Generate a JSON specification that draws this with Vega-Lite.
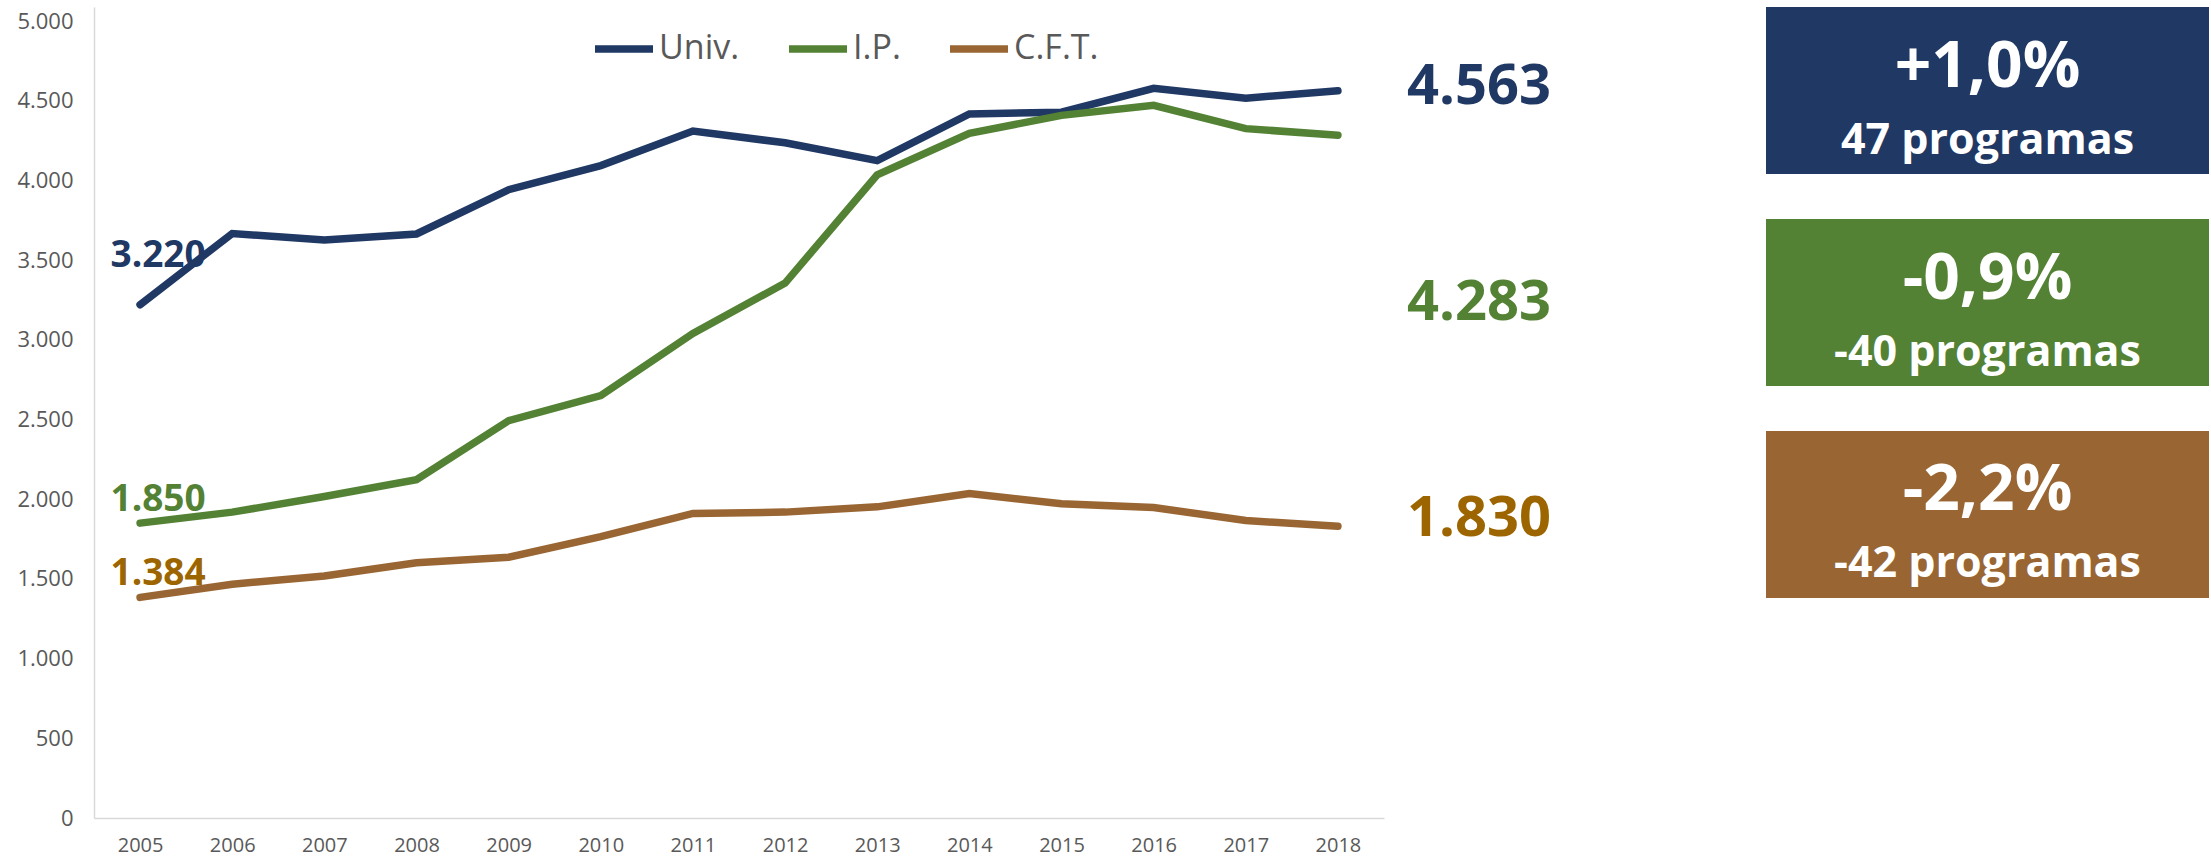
{
  "$schema": "https://vega.github.io/schema/vega-lite/v6.json",
  "background": "white",
  "padding": {"left": 16, "top": 7, "right": 3, "bottom": 3},
  "bounds": "flush",
  "spacing": 0,
  "config": {
    "locale": {"number": {"decimal": ",", "thousands": ".", "grouping": [3], "currency": ["$", ""], "minus": "-"}},
    "view": {"stroke": null},
    "font": "Open Sans"
  },
  "resolve": {"scale": {"color": "independent", "fill": "independent"}, "legend": {"color": "independent", "fill": "independent"}},
  "datasets": {
    "serie": [
      {"anio": "2005", "tipo": "Univ.", "valor": 3220},
      {"anio": "2006", "tipo": "Univ.", "valor": 3667},
      {"anio": "2007", "tipo": "Univ.", "valor": 3627},
      {"anio": "2008", "tipo": "Univ.", "valor": 3664},
      {"anio": "2009", "tipo": "Univ.", "valor": 3942},
      {"anio": "2010", "tipo": "Univ.", "valor": 4093},
      {"anio": "2011", "tipo": "Univ.", "valor": 4310},
      {"anio": "2012", "tipo": "Univ.", "valor": 4236},
      {"anio": "2013", "tipo": "Univ.", "valor": 4124},
      {"anio": "2014", "tipo": "Univ.", "valor": 4417},
      {"anio": "2015", "tipo": "Univ.", "valor": 4428},
      {"anio": "2016", "tipo": "Univ.", "valor": 4578},
      {"anio": "2017", "tipo": "Univ.", "valor": 4516},
      {"anio": "2018", "tipo": "Univ.", "valor": 4563},
      {"anio": "2005", "tipo": "I.P.", "valor": 1850},
      {"anio": "2006", "tipo": "I.P.", "valor": 1919},
      {"anio": "2007", "tipo": "I.P.", "valor": 2017},
      {"anio": "2008", "tipo": "I.P.", "valor": 2122},
      {"anio": "2009", "tipo": "I.P.", "valor": 2493},
      {"anio": "2010", "tipo": "I.P.", "valor": 2650},
      {"anio": "2011", "tipo": "I.P.", "valor": 3040},
      {"anio": "2012", "tipo": "I.P.", "valor": 3356},
      {"anio": "2013", "tipo": "I.P.", "valor": 4035},
      {"anio": "2014", "tipo": "I.P.", "valor": 4295},
      {"anio": "2015", "tipo": "I.P.", "valor": 4408},
      {"anio": "2016", "tipo": "I.P.", "valor": 4471},
      {"anio": "2017", "tipo": "I.P.", "valor": 4325},
      {"anio": "2018", "tipo": "I.P.", "valor": 4283},
      {"anio": "2005", "tipo": "C.F.T.", "valor": 1384},
      {"anio": "2006", "tipo": "C.F.T.", "valor": 1467},
      {"anio": "2007", "tipo": "C.F.T.", "valor": 1518},
      {"anio": "2008", "tipo": "C.F.T.", "valor": 1601},
      {"anio": "2009", "tipo": "C.F.T.", "valor": 1636},
      {"anio": "2010", "tipo": "C.F.T.", "valor": 1765},
      {"anio": "2011", "tipo": "C.F.T.", "valor": 1911},
      {"anio": "2012", "tipo": "C.F.T.", "valor": 1919},
      {"anio": "2013", "tipo": "C.F.T.", "valor": 1952},
      {"anio": "2014", "tipo": "C.F.T.", "valor": 2036},
      {"anio": "2015", "tipo": "C.F.T.", "valor": 1971},
      {"anio": "2016", "tipo": "C.F.T.", "valor": 1948},
      {"anio": "2017", "tipo": "C.F.T.", "valor": 1866},
      {"anio": "2018", "tipo": "C.F.T.", "valor": 1830}
    ],
    "resumen": [
      {"tipo": "Univ.", "variacion": 0.010, "programas": "47 programas"},
      {"tipo": "I.P.", "variacion": -0.009, "programas": "-40 programas"},
      {"tipo": "C.F.T.", "variacion": -0.022, "programas": "-42 programas"}
    ]
  },
  "hconcat": [
    {
      "width": 1290,
      "height": 811,
      "data": {"name": "serie"},
      "layer": [
        {
          "mark": {"type": "line", "strokeWidth": 7.5, "strokeCap": "round"},
          "encoding": {
            "x": {
              "field": "anio", "type": "ordinal",
              "scale": {"type": "point", "padding": 0.5},
              "axis": {"title": null, "labelAngle": 0, "labelFontSize": 20, "labelColor": "#595959", "labelPadding": 17, "ticks": false, "grid": false, "domainColor": "#d9d9d9", "domainWidth": 1.5, "labelFont": "Open Sans"}
            },
            "y": {
              "field": "valor", "type": "quantitative",
              "scale": {"domain": [0, 5088], "nice": false},
              "axis": {"title": null, "values": [0, 500, 1000, 1500, 2000, 2500, 3000, 3500, 4000, 4500, 5000], "format": ",d", "labelFontSize": 22, "labelColor": "#595959", "labelPadding": 21, "ticks": false, "grid": false, "domainColor": "#d9d9d9", "domainWidth": 1.5, "labelFont": "Open Sans"}
            },
            "color": {
              "field": "tipo", "type": "nominal",
              "scale": {"domain": ["Univ.", "I.P.", "C.F.T."], "range": ["#203864", "#548235", "#996633"]},
              "legend": {"title": null, "orient": "none", "legendX": 497, "legendY": 9, "direction": "horizontal", "symbolType": "stroke", "symbolSize": 3364, "symbolStrokeWidth": 7.5, "labelFontSize": 34, "labelColor": "#595959", "labelOffset": 2, "columnPadding": 34, "labelFont": "Open Sans"}
            }
          }
        },
        {
          "transform": [{"filter": "datum.anio == '2005' && datum.tipo == 'Univ.'"}],
          "mark": {"type": "text", "fontSize": 37, "fontWeight": "bold", "dx": 18, "dy": -49},
          "encoding": {
            "x": {"field": "anio", "type": "ordinal"},
            "y": {"field": "valor", "type": "quantitative"},
            "text": {"field": "valor", "type": "quantitative", "format": ",d"},
            "fill": {"field": "tipo", "type": "nominal", "scale": {"domain": ["Univ.", "I.P.", "C.F.T."], "range": ["#203864", "#548235", "#9C6500"]}, "legend": null}
          }
        },
        {
          "transform": [{"filter": "datum.anio == '2005' && datum.tipo != 'Univ.'"}],
          "mark": {"type": "text", "fontSize": 37, "fontWeight": "bold", "dx": 18, "dy": -23},
          "encoding": {
            "x": {"field": "anio", "type": "ordinal"},
            "y": {"field": "valor", "type": "quantitative"},
            "text": {"field": "valor", "type": "quantitative", "format": ",d"},
            "fill": {"field": "tipo", "type": "nominal", "scale": {"domain": ["Univ.", "I.P.", "C.F.T."], "range": ["#203864", "#548235", "#9C6500"]}, "legend": null}
          }
        }
      ]
    },
    {
      "width": 382,
      "height": 592,
      "data": {"name": "serie"},
      "transform": [{"filter": "datum.anio == '2018'"}],
      "mark": {"type": "text", "fontSize": 56, "fontWeight": "bold", "dx": -96},
      "encoding": {
        "y": {"field": "tipo", "type": "nominal", "sort": ["Univ.", "I.P.", "C.F.T."], "scale": {"type": "point", "padding": 0.3735}, "axis": null},
        "text": {"field": "valor", "type": "quantitative", "format": ",d"},
        "fill": {"field": "tipo", "type": "nominal", "scale": {"domain": ["Univ.", "I.P.", "C.F.T."], "range": ["#203864", "#548235", "#9C6500"]}, "legend": null}
      }
    },
    {
      "width": 443,
      "height": 591,
      "data": {"name": "resumen"},
      "encoding": {
        "y": {"field": "tipo", "type": "nominal", "sort": ["Univ.", "I.P.", "C.F.T."], "scale": {"type": "band", "paddingInner": 0.212, "paddingOuter": 0}, "axis": null}
      },
      "layer": [
        {
          "mark": {"type": "rect"},
          "encoding": {
            "color": {"field": "tipo", "type": "nominal", "scale": {"domain": ["Univ.", "I.P.", "C.F.T."], "range": ["#203864", "#548235", "#996633"]}, "legend": null}
          }
        },
        {
          "mark": {"type": "text", "color": "white", "fontSize": 64, "fontWeight": "bold", "dy": -23},
          "encoding": {"text": {"field": "variacion", "type": "quantitative", "format": "+.1%"}}
        },
        {
          "mark": {"type": "text", "color": "white", "fontSize": 43, "fontWeight": "bold", "dy": 50},
          "encoding": {"text": {"field": "programas", "type": "nominal"}}
        }
      ]
    }
  ]
}
